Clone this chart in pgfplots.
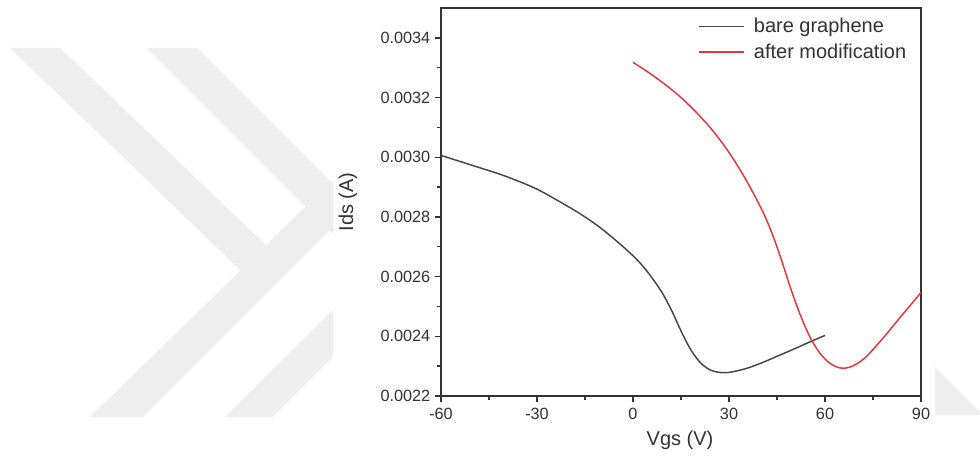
\documentclass[border=0pt]{standalone}
\usepackage{pgfplots}
\pgfplotsset{compat=1.18}
\usepackage{fontspec}
\setmainfont{Liberation Sans}
\definecolor{wm}{RGB}{238,238,238}
\definecolor{axc}{RGB}{50,50,50}
\definecolor{bare}{RGB}{70,70,70}
\definecolor{modr}{RGB}{232,52,62}
\begin{document}
\begin{tikzpicture}
\useasboundingbox (0,0) rectangle (735pt,-349.5pt);
% watermark (background decoration)
\begin{scope}[x=0.75pt,y=-0.75pt]
\fill[wm] (10,48) -- (60,48) -- (291,269) -- (240,270) -- cycle;
\fill[wm] (90,417) -- (143,417) -- (333,227) -- (333,180) -- cycle;
\fill[wm] (147,48) -- (197,48) -- (333,184) -- (333,234) -- cycle;
\fill[wm] (225,417) -- (273,417) -- (333,357) -- (333,310) -- cycle;
\fill[white] (333,0) rectangle (935,430);
\fill[wm] (935,367) -- (980,412) -- (980,415) -- (935,415) -- cycle;
\end{scope}
\begin{axis}[
  at={(330.75pt,-297pt)}, anchor=south west,
  scale only axis, width=360pt, height=291pt,
  xmin=-60, xmax=90, ymin=0.0022, ymax=0.0035,
  xtick={-60,-30,0,30,60,90},
  xticklabels={-60,-30,0,30,60,90},
  ytick={0.0022,0.0024,0.0026,0.0028,0.0030,0.0032,0.0034},
  yticklabels={0.0022,0.0024,0.0026,0.0028,0.0030,0.0032,0.0034},
  scaled y ticks=false,
  minor x tick num=1, minor y tick num=1,
  xtick pos=bottom, ytick pos=left,
  tick align=outside,
  major tick length=4.5pt, minor tick length=3pt,
  every tick/.style={axc, line width=1pt},
  axis line style={axc, line width=1.3pt},
  tick label style={font=\fontsize{12.2}{14}\selectfont, text=axc},
  xticklabel style={yshift=-1pt},
  xlabel={Vgs (V)}, ylabel={Ids (A)},
  every axis x label/.style={at={(axis description cs:0.498,-0.113)}, anchor=center,
    font=\fontsize{15}{18}\selectfont, text=axc},
  every axis y label/.style={at={(axis description cs:-0.194,0.5)}, anchor=center, rotate=90,
    font=\fontsize{15}{18}\selectfont, text=axc},
  legend style={draw=none, fill=none, at={(axis description cs:0.978,0.985)}, anchor=north east,
    font=\fontsize{15}{18}\selectfont, text=axc, row sep=3pt, inner sep=1pt,
    /tikz/every odd column/.append style={column sep=4.5pt}},
  legend cell align=left,
  legend image code/.code={\draw[#1] (0pt,0pt) -- (34pt,0pt);},
]
\addplot[bare, line width=1.1pt, smooth] coordinates {
(-60,0.003006) (-50,0.002972) (-40,0.002937) (-30,0.002893) (-20,0.002833)
(-15,0.002800) (-10,0.002762) (-5,0.002718) (0,0.002670) (3,0.002636)
(6,0.002595) (9,0.002548) (12,0.002488) (15,0.002418) (18,0.002356)
(21,0.002312) (24,0.002288) (27,0.002279) (30,0.002279) (35,0.002291)
(40,0.002310) (45,0.002333) (50,0.002356) (55,0.002380) (60,0.002403)
};
\addlegendentry{bare graphene}
\addplot[modr, line width=1.1pt, smooth] coordinates {
(0,0.003318) (5,0.003283) (10,0.003244) (15,0.003200) (20,0.003148)
(25,0.003088) (30,0.003016) (35,0.002930) (40,0.002830) (43,0.002757)
(46,0.002668) (49,0.002569) (52,0.002479) (55,0.002404) (58,0.002349)
(61,0.002314) (63.5,0.002298) (65.5,0.002293) (67.5,0.002296) (70,0.002308)
(73,0.002333) (76,0.002368) (79,0.002405) (82,0.002444) (85,0.002483)
(88,0.002521) (90,0.002547)
};
\addlegendentry{after modification}
\end{axis}
\end{tikzpicture}
\end{document}
